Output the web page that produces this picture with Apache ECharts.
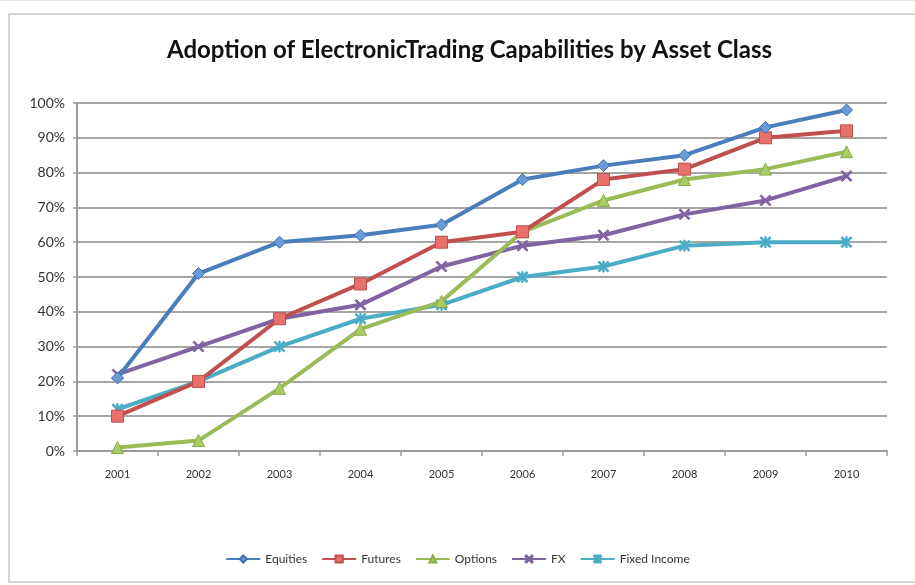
<!DOCTYPE html>
<html>
<head>
<meta charset="utf-8">
<script src="https://cdn.jsdelivr.net/npm/echarts@6/dist/echarts.min.js"></script>
<style>
  html, body { margin: 0; padding: 0; background: #fff; }
  #chart { width: 915px; height: 585px; }
</style>
</head>
<body>
<div id="chart"></div>
<script>
// Years on the category axis
const years = ['2001', '2002', '2003', '2004', '2005', '2006', '2007', '2008', '2009', '2010'];

// Share of firms with electronic trading capability, in percent
const equities    = [21, 51, 60, 62, 65, 78, 82, 85, 93, 98];
const futures     = [10, 20, 38, 48, 60, 63, 78, 81, 90, 92];
const options     = [1, 3, 18, 35, 43, 63, 72, 78, 81, 86];
const fx          = [22, 30, 38, 42, 53, 59, 62, 68, 72, 79];
const fixedIncome = [12, 20, 30, 38, 42, 50, 53, 59, 60, 60];

const seriesNames = ['Equities', 'Futures', 'Options', 'FX', 'Fixed Income'];

// Value-axis ticks: 0% .. 100% in steps of 10
const yMin = 0, yMax = 100, yStep = 10;

// Marker shapes: diagonal cross and asterisk drawn as filled thin bars
const crossPath = 'path://M0,1.2 L1.2,0 L10,8.8 L8.8,10 Z M8.8,0 L10,1.2 L1.2,10 L0,8.8 Z';
const starPath = 'path://M0,1.2 L1.2,0 L10,8.8 L8.8,10 Z M8.8,0 L10,1.2 L1.2,10 L0,8.8 Z M4.4,0 L5.6,0 L5.6,10 L4.4,10 Z';

const styles = [
  { line: '#4A7EBB', fill: '#6A9BD8', border: '#3F6FAF', symbol: 'diamond', size: 12 },
  { line: '#C0504D', fill: '#E8716E', border: '#C0504D', symbol: 'rect', size: 12 },
  { line: '#9BBB59', fill: '#A9CC63', border: '#8AAB48', symbol: 'triangle', size: 12 },
  { line: '#8064A2', fill: '#8064A2', border: '#8064A2', symbol: crossPath, size: 11 },
  { line: '#4BACC6', fill: '#4BACC6', border: '#4BACC6', symbol: starPath, size: 11 }
];

const dataSets = [equities, futures, options, fx, fixedIncome];

const chart = echarts.init(document.getElementById('chart'), null, { renderer: 'canvas' });

const font = 'Lato, "Open Sans", sans-serif';

chart.setOption({
  backgroundColor: '#ffffff',
  animation: false,
  title: {
    text: 'Adoption of ElectronicTrading Capabilities by Asset Class',
    left: 162,
    top: 33,
    textStyle: { fontFamily: font, fontSize: 24, fontWeight: 'bold', color: '#111' }
  },
  graphic: [
    {
      type: 'rect',
      shape: { x: 9, y: 14, width: 930, height: 568 },
      style: { fill: 'none', stroke: '#d4d4d4', lineWidth: 2 },
      silent: true,
      z: -1
    },
    {
      type: 'line',
      shape: { x1: 0, y1: 0.5, x2: 915, y2: 0.5 },
      style: { stroke: '#e6e6e6', lineWidth: 1 },
      silent: true
    }
  ],
  legend: {
    data: seriesNames,
    bottom: 15,
    left: 'center',
    itemWidth: 34,
    itemHeight: 9,
    itemGap: 14,
    textStyle: { fontFamily: font, fontSize: 12, color: '#333' }
  },
  grid: { left: 77, right: 28, top: 103, bottom: 134, containLabel: false },
  xAxis: {
    type: 'category',
    data: years,
    boundaryGap: true,
    axisLine: { lineStyle: { color: '#9a9a9a', width: 2 } },
    axisTick: { show: true, length: 5, lineStyle: { color: '#9a9a9a', width: 1.5 } },
    axisLabel: { margin: 18, fontFamily: font, fontSize: 11, color: '#333' }
  },
  yAxis: {
    type: 'value',
    min: yMin,
    max: yMax,
    interval: yStep,
    axisLine: { show: true, lineStyle: { color: '#9a9a9a', width: 2 } },
    axisTick: { show: true, length: 4, lineStyle: { color: '#9a9a9a', width: 1.5 } },
    splitLine: { lineStyle: { color: '#a6a6a6', width: 2 } },
    axisLabel: { margin: 12, fontFamily: font, fontSize: 14, color: '#333', formatter: '{value}%' }
  },
  series: dataSets.map((vals, i) => ({
    name: seriesNames[i],
    type: 'line',
    data: vals,
    symbol: styles[i].symbol,
    symbolSize: styles[i].size,
    showAllSymbol: true,
    lineStyle: { color: styles[i].line, width: 4 },
    itemStyle: { color: styles[i].fill, borderColor: styles[i].border, borderWidth: 1 },
    z: 10 - i
  }))
});
</script>
</body>
</html>
